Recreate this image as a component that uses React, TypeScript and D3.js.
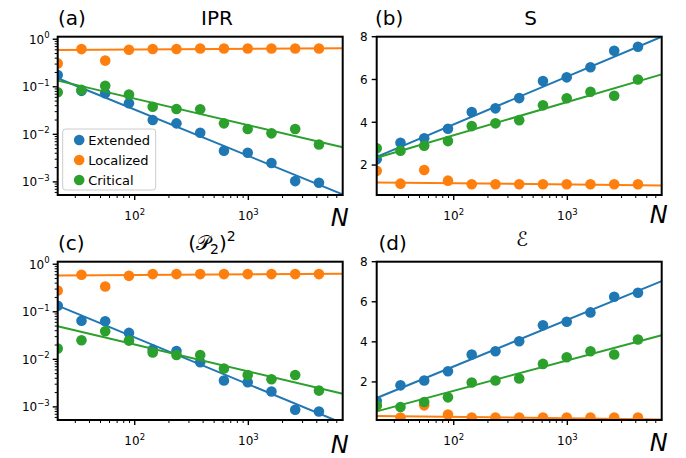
import React from 'react';
import * as d3 from 'd3';

// System sizes (Fibonacci)
const N = [21, 34, 55, 89, 144, 233, 377, 610, 987, 1597, 2584, 4181];
const X_DOMAIN: [number, number] = [21, 6765];

const SERIES_NAMES = ['Extended', 'Localized', 'Critical'];
const COLORS = ['#1f77b4', '#ff7f0e', '#2ca02c'];

// (a) IPR
const iprExtended = [0.177, 0.082, 0.073, 0.045, 0.020, 0.017, 0.0108, 0.0045, 0.0041, 0.0025, 0.00104, 0.00096];
const iprLocalized = [0.31, 0.62, 0.355, 0.60, 0.625, 0.625, 0.64, 0.64, 0.64, 0.64, 0.64, 0.64];
const iprCritical = [0.077, 0.086, 0.105, 0.069, 0.038, 0.034, 0.0336, 0.017, 0.0129, 0.0105, 0.0129, 0.0061];
// fits: [slope, intercept] of log10(y) vs log10(N)
const iprFits = [[-0.974, 0.468], [0.014, -0.243], [-0.559, -0.131]];

// (b) S
const sExtended = [2.27, 3.04, 3.25, 3.70, 4.48, 4.65, 5.13, 5.93, 6.10, 6.57, 7.34, 7.53];
const sLocalized = [1.73, 1.13, 1.77, 1.27, 1.10, 1.10, 1.10, 1.10, 1.10, 1.10, 1.10, 1.10];
const sCritical = [2.78, 2.67, 2.90, 3.12, 3.82, 3.95, 4.10, 4.79, 5.12, 5.43, 5.24, 6.00];
// fits: [slope, intercept] of y vs log10(N)
const sFits = [[2.24, -0.58], [-0.056, 1.264], [1.555, 0.284]];

// (c) (P2)^2
const p2Extended = [0.134, 0.065, 0.063, 0.036, 0.016, 0.0149, 0.0087, 0.0036, 0.0033, 0.0021, 0.00087, 0.00080];
const p2Localized = [0.28, 0.60, 0.34, 0.57, 0.62, 0.62, 0.62, 0.62, 0.62, 0.62, 0.62, 0.62];
const p2Critical = [0.0169, 0.0252, 0.039, 0.0248, 0.014, 0.0123, 0.0123, 0.0064, 0.0047, 0.0038, 0.0047, 0.0022];
const p2Fits = [[-0.986, 0.432], [0.014, -0.256], [-0.565, -0.558]];

// (d) E
const eExtended = [1.05, 1.83, 2.07, 2.53, 3.37, 3.53, 4.03, 4.83, 5.0, 5.47, 6.25, 6.45];
const eLocalized = [0.8, 0.22, 0.83, 0.37, 0.22, 0.22, 0.22, 0.22, 0.22, 0.22, 0.22, 0.22];
const eCritical = [0.83, 0.75, 1.0, 1.23, 1.97, 2.07, 2.17, 2.9, 3.23, 3.53, 3.37, 4.12];
const eFits = [[2.325, -1.874], [-0.068, 0.39], [1.515, -1.473]];

const LIN_TICKS = [2, 4, 6, 8];
const LOG_Y_DOMAIN: [number, number] = [5.3e-4, 1.13];

const FONT = 'DejaVu Sans, sans-serif';

type PanelProps = {
  id: string;
  left: number; right: number; top: number; bottom: number;
  log: boolean;
  yDomain: [number, number];
  series: number[][];
  fits: number[][];
  legend?: boolean;
  nLabelY: number;
};

function Pow10({ x, y, k, anchor }: { x: number; y: number; k: number; anchor: 'middle' | 'end' }) {
  const sup = k < 0 ? '\u2212' + Math.abs(k) : String(k);
  return (
    <text x={x} y={y} textAnchor={anchor} fontSize={12} fontFamily={FONT} fill="#000">
      10<tspan fontSize={8.5} dy={-5.5}>{sup}</tspan>
    </text>
  );
}

function Panel(p: PanelProps) {
  const x = d3.scaleLog().domain(X_DOMAIN).range([p.left, p.right]);
  const y = p.log
    ? d3.scaleLog().domain(p.yDomain).range([p.bottom, p.top])
    : d3.scaleLinear().domain(p.yDomain).range([p.bottom, p.top]);

  const xMajor = [100, 1000];
  const xMinor: number[] = [];
  for (let e = 1; e <= 3; e++) for (let m = 2; m <= 9; m++) {
    const v = m * Math.pow(10, e);
    if (v >= X_DOMAIN[0] && v <= X_DOMAIN[1]) xMinor.push(v);
  }
  const yMajor: number[] = [];
  const yMinor: number[] = [];
  if (p.log) {
    for (let e = -4; e <= 0; e++) {
      const v = Math.pow(10, e);
      if (v >= p.yDomain[0] && v <= p.yDomain[1]) yMajor.push(e);
      for (let m = 2; m <= 9; m++) {
        const w = m * v;
        if (w >= p.yDomain[0] && w <= p.yDomain[1]) yMinor.push(w);
      }
    }
  }

  const fitY = (f: number[], n: number) => {
    const l = Math.log10(n);
    return p.log ? Math.pow(10, f[0] * l + f[1]) : f[0] * l + f[1];
  };

  const clipId = 'clip-' + p.id;
  return (
    <g>
      <defs>
        <clipPath id={clipId}>
          <rect x={p.left} y={p.top} width={p.right - p.left} height={p.bottom - p.top} />
        </clipPath>
      </defs>
      <g clipPath={`url(#${clipId})`}>
        {p.series.map((vals, si) => (
          <g key={si}>
            {vals.map((v, i) => (
              <circle key={i} cx={x(N[i])} cy={y(v)} r={5.3} fill={COLORS[si]} />
            ))}
            <line
              x1={x(X_DOMAIN[0])} y1={y(fitY(p.fits[si], X_DOMAIN[0]))}
              x2={x(X_DOMAIN[1])} y2={y(fitY(p.fits[si], X_DOMAIN[1]))}
              stroke={COLORS[si]} strokeWidth={2}
            />
          </g>
        ))}
      </g>
      {xMajor.map((v) => (
        <g key={'xm' + v}>
          <line x1={x(v)} x2={x(v)} y1={p.bottom} y2={p.bottom + 5} stroke="#000" strokeWidth={1.4} />
          <Pow10 x={x(v)} y={p.bottom + 25} k={Math.round(Math.log10(v))} anchor="middle" />
        </g>
      ))}
      {xMinor.map((v) => (
        <line key={'xn' + v} x1={x(v)} x2={x(v)} y1={p.bottom} y2={p.bottom + 3} stroke="#000" strokeWidth={1} />
      ))}
      {p.log
        ? yMajor.map((e) => (
            <g key={'ym' + e}>
              <line x1={p.left - 5} x2={p.left} y1={y(Math.pow(10, e))} y2={y(Math.pow(10, e))} stroke="#000" strokeWidth={1.4} />
              <Pow10 x={p.left - 8} y={y(Math.pow(10, e)) + 4.5} k={e} anchor="end" />
            </g>
          ))
        : LIN_TICKS.map((v) => (
            <g key={'yl' + v}>
              <line x1={p.left - 5} x2={p.left} y1={y(v)} y2={y(v)} stroke="#000" strokeWidth={1.4} />
              <text x={p.left - 9} y={y(v) + 4.3} textAnchor="end" fontSize={12} fontFamily={FONT} fill="#000">{v}</text>
            </g>
          ))}
      {yMinor.map((v) => (
        <line key={'yn' + v} x1={p.left - 3} x2={p.left} y1={y(v)} y2={y(v)} stroke="#000" strokeWidth={1} />
      ))}
      <rect x={p.left} y={p.top} width={p.right - p.left} height={p.bottom - p.top} fill="none" stroke="#000" strokeWidth={2} />
      <text x={p.right - 12} y={p.nLabelY} fontSize={24} fontStyle="italic" fontFamily={FONT} fill="#000">N</text>
      {p.legend && (
        <g>
          <rect x={p.left + 5} y={p.bottom - 66} width={93} height={61} rx={3} fill="#fff" fillOpacity={0.8} stroke="#cccccc" strokeWidth={1} />
          {SERIES_NAMES.map((name, i) => (
            <g key={name}>
              <circle cx={p.left + 21.5} cy={p.bottom - 55 + i * 20} r={5.3} fill={COLORS[i]} />
              <text x={p.left + 30.5} y={p.bottom - 50.3 + i * 20} fontSize={13} fontFamily={FONT} fill="#000">{name}</text>
            </g>
          ))}
        </g>
      )}
    </g>
  );
}

export default function App() {
  const L1 = 57.7, R1 = 342.7, L2 = 376.7, R2 = 661.7;
  const T1 = 36.7, B1 = 195, T2 = 261.7, B2 = 420;
  return (
    <svg width={686} height={458} style={{ position: 'absolute', left: 0, top: 0, background: '#fff' }}>
      <rect x={0} y={0} width={686} height={458} fill="#fff" />
      <Panel id="a" left={L1} right={R1} top={T1} bottom={B1} log yDomain={LOG_Y_DOMAIN}
        series={[iprExtended, iprLocalized, iprCritical]} fits={iprFits} legend nLabelY={226} />
      <Panel id="b" left={L2} right={R2} top={T1} bottom={B1} log={false} yDomain={[0.6, 8]}
        series={[sExtended, sLocalized, sCritical]} fits={sFits} nLabelY={223} />
      <Panel id="c" left={L1} right={R1} top={T2} bottom={B2} log yDomain={LOG_Y_DOMAIN}
        series={[p2Extended, p2Localized, p2Critical]} fits={p2Fits} nLabelY={453} />
      <Panel id="d" left={L2} right={R2} top={T2} bottom={B2} log={false} yDomain={[0.1, 8]}
        series={[eExtended, eLocalized, eCritical]} fits={eFits} nLabelY={451} />

      <g fontFamily={FONT} fontSize={20} fill="#000">
        <text x={58} y={25}>(a)</text>
        <text x={217} y={25} textAnchor="middle">IPR</text>
        <text x={375} y={25}>(b)</text>
        <text x={530.5} y={25} textAnchor="middle">S</text>
        <text x={58} y={250}>(c)</text>
        <text x={212} y={250} textAnchor="middle">
          ({'\u{1D4AB}'}<tspan fontSize={14} dy={4}>2</tspan><tspan dy={-4}>)</tspan><tspan fontSize={14} dy={-9}>2</tspan>
        </text>
        <text x={378.5} y={250}>(d)</text>
        <text x={522} y={246} textAnchor="middle">{'\u2130'}</text>
      </g>
    </svg>
  );
}
